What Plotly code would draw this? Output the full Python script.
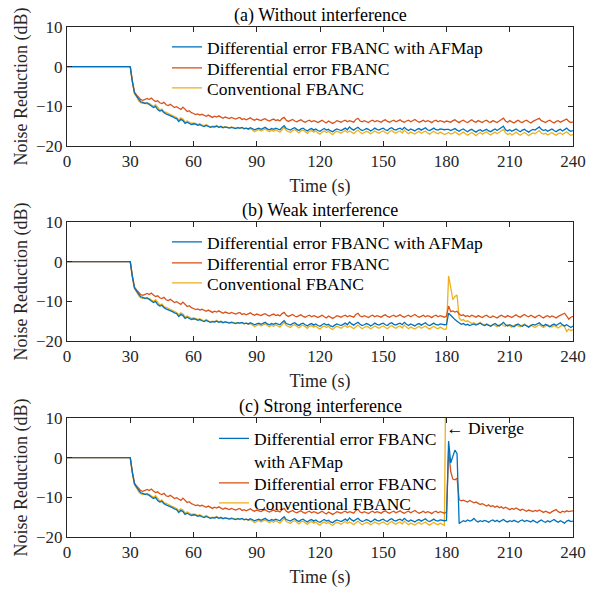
import plotly.graph_objects as go

# ---------------- data ----------------
T_START = [0]
T_PRE = list(range(30, 181))      # 30 .. 180 s
T_TAIL = list(range(181, 241))    # 181 .. 240 s

AFMAP_PRE = [
    0.0, -3.8, -6.6, -7.4, -8.3, -8.9, -9.0, -9.3, -9.1, -9.6,
    -9.9, -10.3, -10.0, -10.8, -11.2, -11.0, -11.6, -11.9, -12.1, -12.4,
    -12.6, -12.9, -13.1, -13.8, -13.3, -13.6, -14.3, -14.0, -14.2, -14.6,
    -14.4, -14.5, -14.8, -14.6, -14.9, -15.1, -14.8, -15.0, -15.3, -15.1,
    -15.2, -15.0, -15.3, -15.1, -15.4, -15.2, -15.3, -15.5, -15.3, -15.4,
    -15.6, -15.4, -15.5, -15.3, -15.6, -15.5, -15.7, -15.4, -15.6, -15.9,
    -15.7, -15.5, -15.8, -15.6, -15.3, -15.7, -15.9, -15.6, -15.8, -15.5,
    -15.7, -15.9, -15.3, -14.9, -15.6, -15.8, -16.0, -15.6, -15.4, -15.8,
    -16.1, -15.7, -15.5, -15.9, -16.2, -15.8, -15.6, -16.0, -15.7, -16.1,
    -16.3, -15.9, -15.6, -16.0, -15.8, -16.2, -16.4, -16.0, -15.7, -15.9,
    -16.1, -15.8, -15.5, -15.9, -15.2, -15.7, -16.0, -15.6, -15.3, -15.8,
    -16.1, -15.9, -15.6, -15.8, -16.2, -15.9, -15.5, -15.8, -16.0, -15.7,
    -15.5, -15.9, -16.1, -15.6, -15.4, -15.8, -16.0, -15.7, -15.5, -15.9,
    -15.3, -15.8, -16.1, -15.7, -15.9, -16.2, -15.8, -15.6, -16.0, -15.7,
    -15.4, -15.9, -16.1, -15.8, -15.5, -15.9, -16.0, -15.7, -15.8, -15.9,
    -15.8,
]
DIFF_PRE = [
    0.0, -3.6, -6.4, -7.1, -7.6, -8.3, -8.5, -8.2, -8.0, -8.3,
    -7.9, -8.4, -8.8, -8.6, -9.1, -9.3, -9.0, -9.6, -9.8, -9.5,
    -10.0, -10.3, -10.1, -10.5, -10.8, -10.2, -10.9, -11.3, -11.1, -11.6,
    -11.8, -12.1, -11.9, -12.2, -12.0, -12.3, -12.5, -12.2, -12.6, -12.8,
    -12.5, -12.7, -12.4, -12.8, -13.0, -12.7, -12.9, -13.1, -12.8, -13.0,
    -13.2, -13.0, -12.8, -13.3, -13.1, -13.4, -13.2, -12.9, -13.3, -13.5,
    -13.2, -13.4, -13.6, -13.3, -13.1, -13.5, -13.7, -13.4, -13.2, -13.6,
    -13.4, -13.7, -13.1, -12.8, -13.5, -13.8, -13.5, -13.3, -13.7, -13.9,
    -13.6, -13.4, -13.8, -14.0, -13.7, -13.5, -13.9, -13.6, -13.8, -14.1,
    -13.8, -13.5, -13.9, -14.2, -13.7, -13.9, -14.3, -14.0, -13.6, -13.8,
    -14.0, -13.7, -13.5, -13.9, -13.6, -13.8, -14.0, -13.3, -13.0, -13.7,
    -13.9, -13.6, -13.8, -14.1, -13.7, -13.5, -13.9, -13.6, -13.8, -14.0,
    -13.6, -13.4, -13.8, -14.0, -13.7, -13.5, -13.9, -13.6, -13.4, -13.8,
    -14.0, -13.7, -13.5, -13.9, -13.6, -13.3, -13.7, -14.0, -13.8, -13.5,
    -13.9, -13.6, -13.8, -14.1, -13.7, -13.5, -13.9, -13.6, -13.8, -14.0,
    -13.7,
]
CONV_PRE = [
    0.0, -3.9, -6.8, -7.6, -8.6, -9.1, -9.3, -9.1, -9.4, -9.3,
    -9.7, -10.0, -9.6, -10.4, -10.9, -10.7, -11.3, -11.5, -11.8, -12.1,
    -12.2, -12.5, -12.8, -13.4, -12.9, -13.2, -13.9, -13.7, -13.9, -14.3,
    -14.2, -14.3, -14.6, -14.4, -14.7, -14.9, -14.6, -14.9, -15.2, -15.0,
    -15.1, -14.8, -15.2, -15.0, -15.3, -15.1, -15.2, -15.4, -15.2, -15.3,
    -15.5, -15.3, -15.6, -15.4, -15.7, -15.5, -15.8, -15.6, -15.9, -16.4,
    -16.1, -15.8, -16.2, -16.0, -15.7, -16.1, -16.4, -16.0, -16.3, -15.9,
    -16.2, -16.5, -15.9, -15.3, -16.1, -16.4, -16.6, -16.1, -15.9, -16.3,
    -16.7, -16.2, -16.0, -16.4, -16.8, -16.3, -16.1, -16.5, -16.2, -16.7,
    -17.0, -16.5, -16.2, -16.6, -16.3, -16.8, -17.1, -16.6, -16.3, -16.5,
    -16.8, -16.4, -16.1, -16.6, -16.2, -16.5, -16.9, -16.4, -16.0, -16.5,
    -16.9, -16.6, -16.3, -16.5, -16.9, -16.6, -16.2, -16.5, -16.8, -16.4,
    -16.2, -16.6, -16.9, -16.4, -16.1, -16.5, -16.8, -16.4, -16.2, -16.7,
    -16.0, -16.5, -16.9, -16.5, -16.7, -17.0, -16.6, -16.3, -16.8, -16.5,
    -16.2, -16.7, -17.0, -16.6, -16.3, -16.7, -16.9, -16.5, -16.7, -17.1,
    -16.9,
]

# (a) without interference, 181..240 s
AFMAP_A_TAIL = [
    -15.8, -16.1, -15.9, -15.6, -16.0, -16.3, -15.9, -15.7, -16.1, -16.4,
    -16.0, -15.8, -16.2, -16.5, -16.1, -15.9, -16.3, -16.0, -15.8, -16.2,
    -16.4, -16.0, -15.7, -16.1, -15.8, -15.4, -15.0, -15.9, -16.2, -15.9,
    -16.3, -16.0, -15.7, -16.1, -16.4, -16.0, -15.8, -16.2, -16.5, -16.1,
    -15.8, -16.0, -15.6, -15.2, -15.8, -16.1, -15.9, -16.3, -16.0, -15.7,
    -16.1, -16.4, -16.0, -15.8, -16.2, -15.9, -15.5, -16.0, -16.3, -16.1,
]
DIFF_A_TAIL = [
    -13.8, -14.0, -13.6, -13.4, -13.8, -14.1, -13.7, -13.5, -13.9, -14.1,
    -13.7, -13.4, -13.8, -14.0, -13.6, -13.8, -14.1, -13.7, -13.5, -13.9,
    -14.0, -13.6, -13.8, -14.1, -13.7, -13.3, -13.0, -13.7, -14.0, -13.6,
    -13.8, -14.2, -13.8, -13.5, -13.9, -14.1, -13.7, -13.5, -13.9, -14.2,
    -13.8, -13.6, -13.3, -13.0, -13.6, -13.9, -14.1, -13.7, -13.5, -13.9,
    -14.2, -13.8, -13.6, -14.0, -13.7, -13.5, -13.2, -13.8, -14.1, -13.9,
]
CONV_A_TAIL = [
    -16.6, -17.0, -16.8, -16.4, -16.9, -17.2, -16.8, -16.5, -16.9, -17.3,
    -16.9, -16.6, -17.0, -17.4, -16.9, -16.6, -17.0, -16.7, -16.4, -16.9,
    -17.2, -16.8, -16.5, -16.9, -16.6, -16.2, -15.8, -16.7, -17.1, -16.8,
    -17.2, -16.9, -16.5, -16.9, -17.3, -16.9, -16.6, -17.0, -17.4, -17.0,
    -16.7, -16.9, -16.5, -16.1, -16.7, -17.0, -16.8, -17.2, -16.9, -16.6,
    -17.0, -17.3, -16.9, -16.7, -17.1, -16.8, -16.4, -16.9, -17.3, -17.1,
]

# (b) weak interference, 181..240 s
AFMAP_B_TAIL = [
    -13.0, -13.5, -14.2, -14.6, -15.0, -15.4, -15.8, -15.6, -16.0, -15.8,
    -16.1, -15.9, -15.7, -16.0, -15.8, -15.5, -15.9, -16.1, -15.8, -16.0,
    -16.3, -15.9, -15.6, -16.0, -16.2, -15.8, -15.3, -15.9, -16.2, -15.9,
    -16.1, -16.4, -16.0, -15.7, -16.1, -16.3, -15.9, -16.2, -16.5, -16.1,
    -15.8, -16.0, -15.7, -15.4, -15.9, -16.2, -15.8, -16.1, -16.4, -16.0,
    -15.7, -16.1, -15.8, -15.4, -15.9, -16.2, -15.9, -16.3, -16.6, -16.2,
]
DIFF_B_TAIL = [
    -11.2, -12.6, -12.4, -12.7, -12.5, -13.2, -13.6, -13.4, -13.8, -13.6,
    -13.9, -13.5, -13.8, -14.0, -13.6, -13.8, -14.1, -13.7, -13.5, -13.9,
    -14.1, -13.7, -13.9, -14.2, -13.8, -13.5, -13.8, -14.0, -13.6, -13.8,
    -14.1, -13.7, -13.4, -13.8, -14.0, -13.6, -13.3, -13.7, -13.9, -13.5,
    -13.8, -14.1, -13.7, -13.5, -13.9, -14.2, -13.8, -13.6, -14.0, -13.7,
    -13.9, -14.2, -13.8, -13.5, -13.2, -13.0, -13.7, -14.5, -14.0, -13.8,
]
CONV_B_TAIL = [
    -3.6, -6.5, -9.6, -8.8, -8.4, -14.2, -14.8, -14.6, -15.1, -14.9,
    -15.3, -15.6, -15.4, -15.8, -15.6, -15.3, -15.7, -16.0, -15.7, -15.9,
    -16.2, -15.8, -16.1, -16.4, -16.0, -15.7, -16.1, -16.3, -15.9, -16.2,
    -16.5, -16.1, -15.8, -16.2, -16.4, -16.0, -15.7, -16.1, -16.4, -16.0,
    -16.3, -16.6, -16.2, -15.9, -16.3, -16.6, -16.2, -15.9, -16.3, -16.5,
    -16.1, -16.4, -16.7, -16.3, -16.0, -16.4, -17.6, -17.0, -17.4, -17.1,
]

# (c) strong interference, 181..240 s
AFMAP_C_TAIL = [
    4.2, -1.3, 0.5, 1.9, 1.0, -16.6, -16.2, -15.9, -16.1, -15.7,
    -16.0, -15.8, -15.3, -15.9, -16.2, -15.9, -16.1, -15.8, -16.0, -16.3,
    -15.9, -15.7, -16.1, -15.8, -16.2, -15.9, -15.6, -16.0, -16.2, -15.9,
    -16.1, -15.8, -16.0, -16.3, -15.9, -15.7, -16.1, -15.8, -16.0, -16.2,
    -15.8, -16.1, -16.4, -16.0, -15.7, -16.1, -16.3, -15.9, -16.2, -15.9,
    -15.6, -16.0, -16.3, -15.9, -16.1, -16.5, -16.0, -15.8, -16.1, -16.0,
]
DIFF_C_TAIL = [
    1.8, -3.5, -5.4, -5.6, -5.2, -10.6, -10.9, -10.7, -11.0, -11.2,
    -10.8, -11.1, -11.4, -11.2, -11.5, -11.8, -11.6, -12.0, -12.2, -11.9,
    -12.3, -12.1, -12.5, -12.2, -12.6, -12.4, -12.8, -12.5, -12.9, -13.1,
    -12.8, -13.0, -12.7, -13.1, -13.3, -13.0, -13.2, -13.5, -13.2, -13.4,
    -13.6, -13.3, -13.5, -13.2, -13.6, -13.8, -13.5, -13.7, -14.0, -13.6,
    -13.4, -13.1, -13.6, -13.9, -13.5, -13.7, -13.4, -13.6, -13.5, -13.4,
]
# conventional FBANC diverges at 180 s under strong interference
T_DIVERGE = [180]
CONV_C_DIVERGE = [40.0]

for arr in (AFMAP_PRE, DIFF_PRE, CONV_PRE):
    assert len(arr) == len(T_PRE), len(arr)
for arr in (AFMAP_A_TAIL, DIFF_A_TAIL, CONV_A_TAIL, AFMAP_B_TAIL, DIFF_B_TAIL,
            CONV_B_TAIL, AFMAP_C_TAIL, DIFF_C_TAIL):
    assert len(arr) == len(T_TAIL), len(arr)

TITLES = ["(a) Without interference", "(b) Weak interference", "(c) Strong interference"]
NAMES = ["Differential error FBANC with AFMap", "Differential error FBANC", "Conventional FBANC"]
NAME_C_AFMAP = "Differential error FBANC<br>with AFMap"
X_TICKS = [0, 30, 60, 90, 120, 150, 180, 210, 240]
Y_TICKS = [-20, -10, 0, 10]

# ---------------- styling ----------------
W, H = 603, 589
PAGE_OFF = 0  # body margin removed by post_script below
FONT = "Times New Roman, Liberation Serif, DejaVu Serif, serif"
BLUE, RED, YEL = "#0072BD", "#D95319", "#EDB120"
AXC = "#262626"

t_full = T_START + T_PRE + T_TAIL
t_pre = T_START + T_PRE


def px_x(p):
    return (p - PAGE_OFF) / W


def px_y(p):
    return 1 - (p - PAGE_OFF) / H


PANELS = [(27, 146), (222, 341), (418, 537)]
XL, XR = 67, 573

fig = go.Figure()

series = [
    [(t_full, [0.0] + AFMAP_PRE + AFMAP_A_TAIL, BLUE, NAMES[0]),
     (t_full, [0.0] + DIFF_PRE + DIFF_A_TAIL, RED, NAMES[1]),
     (t_full, [0.0] + CONV_PRE + CONV_A_TAIL, YEL, NAMES[2])],
    [(t_full, [0.0] + AFMAP_PRE + AFMAP_B_TAIL, BLUE, NAMES[0]),
     (t_full, [0.0] + DIFF_PRE + DIFF_B_TAIL, RED, NAMES[1]),
     (t_full, [0.0] + CONV_PRE + CONV_B_TAIL, YEL, NAMES[2])],
    [(t_full, [0.0] + AFMAP_PRE + AFMAP_C_TAIL, BLUE, NAME_C_AFMAP),
     (t_full, [0.0] + DIFF_PRE + DIFF_C_TAIL, RED, NAMES[1]),
     (t_pre[:-1] + T_DIVERGE, [0.0] + CONV_PRE[:-1] + CONV_C_DIVERGE, YEL, NAMES[2])],
]

LEG_X = [167, 167, 214]
LEG_Y = [[47, 68, 88], [242, 263, 283], [450, 483, 503]]

draw_order = [2, 1, 0]
for p, trs in enumerate(series):
    xa = "x" if p == 0 else f"x{p + 1}"
    ya = "y" if p == 0 else f"y{p + 1}"
    for k in draw_order:
        tx, vy, col, name = trs[k]
        lname = "legend" if (p * 3 + k) == 0 else f"legend{p * 3 + k + 1}"
        fig.add_trace(go.Scatter(
            x=tx, y=vy, mode="lines", name=name,
            line=dict(color=col, width=1.3),
            xaxis=xa, yaxis=ya, legend=lname, showlegend=True,
        ))

layout = dict(
    width=W, height=H,
    margin=dict(l=0, r=0, t=0, b=0, autoexpand=False),
    paper_bgcolor="white", plot_bgcolor="white",
    font=dict(family=FONT, size=17, color="black"),
    showlegend=True,
)

for p, (top, bot) in enumerate(PANELS):
    sx = "" if p == 0 else str(p + 1)
    layout[f"xaxis{sx}"] = dict(
        domain=[px_x(XL), px_x(XR)], anchor=f"y{sx}", range=[0, 240],
        tickvals=X_TICKS, ticks="inside", ticklen=5, tickcolor=AXC,
        showline=True, linecolor=AXC, linewidth=1, mirror="ticks",
        showgrid=False, zeroline=False, automargin=False,
        tickfont=dict(family=FONT, size=17, color=AXC),
        title=dict(text="Time (s)", font=dict(family=FONT, size=18, color=AXC), standoff=8),
    )
    layout[f"yaxis{sx}"] = dict(
        domain=[px_y(bot), px_y(top)], anchor=f"x{sx}", range=[-20, 10],
        tickvals=Y_TICKS, ticks="inside", ticklen=5, tickcolor=AXC,
        showline=True, linecolor=AXC, linewidth=1, mirror="ticks",
        showgrid=False, zeroline=False, automargin=False,
        tickfont=dict(family=FONT, size=17, color=AXC),
        title=dict(text="Noise Reduction (dB)", font=dict(family=FONT, size=18, color=AXC), standoff=3),
    )
    for k in range(3):
        lname = "legend" if (p * 3 + k) == 0 else f"legend{p * 3 + k + 1}"
        two_line = (p == 2 and k == 0)
        layout[lname] = dict(
            x=px_x(LEG_X[p]), y=px_y(LEG_Y[p][k]),
            xanchor="left", yanchor="middle",
            bgcolor="rgba(0,0,0,0)", borderwidth=0,
            font=dict(family=FONT, size=17.5, color="black"),
            itemwidth=30, valign="top" if two_line else "middle",
            itemclick=False, itemdoubleclick=False,
        )

annotations = []
for p, (top, bot) in enumerate(PANELS):
    annotations.append(dict(
        text=TITLES[p], xref="paper", yref="paper",
        x=px_x((XL + XR) / 2), y=px_y(top - 12), xanchor="center", yanchor="middle",
        showarrow=False, font=dict(family=FONT, size=18, color="black"),
    ))
annotations.append(dict(
    text="\u2190 Diverge", xref="x3", yref="y3", x=179.0, y=7.6,
    xanchor="left", yanchor="middle", showarrow=False,
    font=dict(family=FONT, size=17.5, color="black"),
))
layout["annotations"] = annotations

fig.update_layout(**layout)
fig.write_html(
    "out.html",
    config={"displayModeBar": False, "staticPlot": True},
    post_script="document.body.style.margin='0px';",
)
